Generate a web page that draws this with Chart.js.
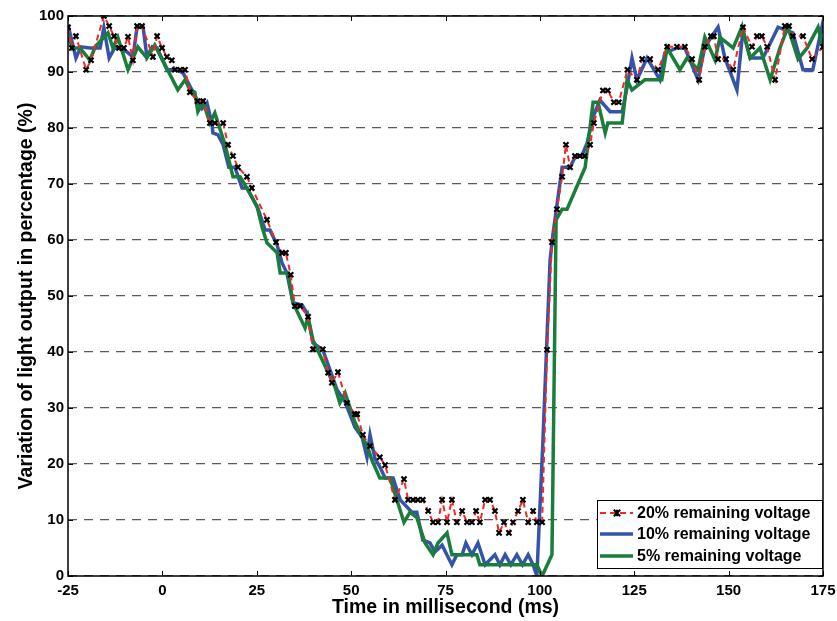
<!DOCTYPE html>
<html>
<head>
<meta charset="utf-8">
<script src="https://cdn.jsdelivr.net/npm/chart.js@4/dist/chart.umd.min.js"></script>
<style>
html,body{margin:0;padding:0;background:#fff;}
#wrap{width:837px;height:621px;}
</style>
</head>
<body>
<div id="wrap"><canvas id="c" width="837" height="621"></canvas></div>
<script>
// ---- Data ----
const seriesLabels = ["20% remaining voltage", "10% remaining voltage", "5% remaining voltage"];
const xTicks = [-25, 0, 25, 50, 75, 100, 125, 150, 175];
const yTicks = [0, 10, 20, 30, 40, 50, 60, 70, 80, 90, 100];

const redX = [-25,-24,-22.9,-20.2,-18.9,-15.5,-14.1,-12.8,-11.5,-10.2,-9.1,-7.8,-6.7,-5.4,-2.5,-1.4,-0.1,1.2,2.5,3.3,4.7,6.0,7.3,9.3,10.8,12.6,13.9,16.1,17.4,18.7,20.0,22.4,23.7,27.7,30.1,31.7,32.7,34.0,35.1,36.5,38.6,39.9,42.5,43.9,44.9,46.5,48.9,51.0,51.6,53.1,55.0,57.6,59.0,61.6,64.0,65.1,66.4,67.7,69.0,70.4,71.7,73.0,74.1,75.4,76.7,78.0,79.4,80.7,82.0,83.1,84.1,85.5,86.8,88.1,89.2,90.5,91.8,92.9,94.2,95.5,96.9,98.2,99.2,100.6,101.9,103.2,104.5,105.9,106.9,108.0,109.3,110.6,111.9,113.3,114.3,116.7,118.0,119.6,120.9,123.2,125.7,127.1,129.2,131.3,133.7,136.3,138.4,140.3,142.2,143.7,145.3,146.1,147.2,149.3,151.2,153.8,156.2,157.5,158.8,160.2,162.3,164.9,166.0,167.0,169.7,172.1,175];
const redY = [98,94.3,96.4,90.4,92.1,100,98.2,96.4,94.3,94.3,96.3,92.1,98.2,98.2,92.7,96.4,94.3,92.7,92.1,90.4,90.4,90.4,86.4,84.8,84.8,80.9,80.9,80.9,77,75,73,71.3,69.3,63.6,59.6,57.7,57.7,53.8,48.2,48.2,46.3,40.5,40.5,36.3,34.5,36.4,30.9,28.9,28.9,25.2,23.2,21.2,19.8,13.6,17.3,13.6,13.6,13.6,13.6,11.6,9.6,9.6,13.6,9.6,13.6,9.6,11.6,9.6,9.6,11.6,9.6,13.6,13.6,11.6,7.7,9.6,7.7,9.6,11.6,13.6,9.6,11.6,9.6,9.6,40.4,59.6,65.5,71.3,77,73,75,75,75,77,80.9,86.7,86.7,84.6,84.6,90.4,88.6,92.3,92.3,90.4,94.5,94.5,94.5,92.3,88.6,94.5,96.4,96.4,92.3,92.3,90.4,98,94.5,96.4,96.4,94.5,88.6,98.2,98.2,96.4,96.4,92.3,94.5];

const blueX = [-25,-22.9,-21.6,-19.2,-16.5,-15.5,-14.1,-12.5,-9.4,-7.8,-6.7,-5.1,-4.1,-2.7,-1.4,1.2,3.9,5.5,7.8,9.2,10.5,11.8,13.1,13.4,14.7,16.1,17.6,19.2,21.1,22.4,25.3,27.2,28.5,30.4,31.7,33.0,34.6,37.0,38.3,39.9,42.5,44.4,46.3,48.4,51.0,52.9,54.2,55.0,56.3,57.6,59.0,61.1,63.0,66.1,67.4,69.0,70.9,72.2,74.1,76.7,78.0,79.4,80.4,82.0,83.6,85.5,88.1,89.4,90.8,92.3,93.9,95.4,96.9,98.2,99.2,100.8,102.7,103.5,105.9,108.0,109.3,111.2,112.5,114.1,115.9,118.6,121.8,123.1,124.4,125.7,128.4,131.8,133.1,136.3,138.4,141.9,143.7,147.2,149.0,152.2,153.8,155.7,159.1,163.1,167.0,169.7,172.3,174.7,175];
const blueY = [98.4,92.5,94.5,94.3,94.3,97.9,92.5,94.5,93.6,92.7,98,98,92.7,94.5,94.3,90.4,90.4,89.8,86.8,85,83.5,84.5,80.9,79.1,78.8,77,73,73,69.3,69.3,65.7,61.8,61.8,59.1,55.9,54.1,48.8,48.4,47,41.6,40.4,36.8,33.2,31.1,26.6,24.8,21.2,25.2,21,19.5,17.5,17.5,13.6,11.4,11.4,6.4,5.9,4.3,5.5,2,3.8,3.8,5.9,3.8,5.9,2,3.8,2,3.8,2,3.8,2,3.8,2,0,24,56.4,61.2,73,73,74.8,75.2,77.3,82,85,82.9,82.9,87.3,92.5,88.6,92.5,88.6,93.4,94.3,94.3,88.6,94.5,98,92.5,86.8,97.5,92.5,92.5,98,97,90.4,90.4,98,97];

const greenX = [-25,-23.7,-21.8,-19.2,-17.8,-14.4,-13.1,-11.8,-9.1,-6.5,-4.1,-2.0,4.1,6.0,7.3,8.6,9.4,10.8,12.6,13.9,16.6,18.7,20.6,23.7,25.1,26.4,27.7,30.4,31.2,33.3,34.6,37.8,38.6,39.9,43.6,45.7,47.0,48.4,51.0,52.9,54.2,55.5,57.6,60.3,64.0,65.6,67.4,69.6,71.7,73.0,75.4,76.7,83.3,84.1,99.2,100.6,103.2,104.3,105.9,107.2,112.0,114.1,115.4,117.3,118.0,121.8,123.1,124.4,127.8,132.3,133.7,137.1,139.0,141.9,143.7,146.4,147.7,151.2,153.5,155.7,158.3,161.0,163.6,165.7,168.4,170.8,173.7,175];
const greenY = [96.2,94.3,94.3,92.1,94.5,97,94.3,96.2,90.4,94.5,92.5,94.8,86.8,88.6,86.8,86.4,82.9,84.6,80.9,82.7,77,71.3,71.3,67.7,65.9,62.3,59.5,57.7,54.1,54.1,48.8,44.3,46.3,42.1,36.8,33.8,30.9,32.7,27.5,24.8,23.4,20.7,17.5,17.5,9.6,11.4,10.4,5.9,3.8,5.9,7.7,3.8,3.8,2,2,0,3.8,63.6,65.5,65.5,73,84.6,84.6,79.1,80.9,80.9,88.6,86.8,88.6,88.6,94.3,90.4,92.5,90.4,96.2,92.1,96.2,94.3,98,92.5,94.3,88.6,94.3,98,92.3,94.3,98,94.3];

const xTitle = "Time in millisecond (ms)";
const yTitle = "Variation of light output in percentage (%)";

// ---- styles ----
const FONT = "'Liberation Sans', Arial, Helvetica, sans-serif";
const RED = '#f02828', BLUE = '#3553a8', GREEN = '#1a7d3c';

function pts(xs, ys){ return xs.map((x,i)=>({x:x, y:ys[i]})); }

const framePlugin = {
  id: 'frame',
  afterDatasetsDraw(chart){
    const {ctx, chartArea:a, scales} = chart;
    ctx.save();
    ctx.strokeStyle = '#000';
    ctx.lineWidth = 1;
    const tl = 5;
    ctx.beginPath();
    xTicks.forEach(v=>{
      const px = Math.round(scales.x.getPixelForValue(v))+0.5;
      ctx.moveTo(px, a.bottom); ctx.lineTo(px, a.bottom - tl);
      ctx.moveTo(px, a.top); ctx.lineTo(px, a.top + tl);
    });
    yTicks.forEach(v=>{
      const py = Math.round(scales.y.getPixelForValue(v))+0.5;
      ctx.moveTo(a.left, py); ctx.lineTo(a.left + tl, py);
      ctx.moveTo(a.right, py); ctx.lineTo(a.right - tl, py);
    });
    ctx.stroke();
    ctx.lineWidth = 1.5;
    ctx.strokeRect(a.left, a.top, a.right - a.left, a.bottom - a.top);

    // legend box
    const w = 225, h = 68;
    const bx = a.right - w - 1, by = a.bottom - h - 8;
    ctx.fillStyle = '#fff';
    ctx.fillRect(bx, by, w, h);
    ctx.lineWidth = 1;
    ctx.strokeStyle = '#000';
    ctx.strokeRect(bx + 0.5, by + 0.5, w, h);
    const rows = [13, 34, 56];
    const ds = chart.data.datasets;
    ctx.font = 'bold 16px ' + FONT;
    ctx.textBaseline = 'middle';
    ctx.textAlign = 'left';
    rows.forEach((ry, i)=>{
      const d = ds[i];
      const y = by + ry;
      ctx.save();
      ctx.strokeStyle = d.borderColor;
      ctx.lineWidth = d.borderWidth;
      ctx.setLineDash(d.borderDash || []);
      ctx.beginPath(); ctx.moveTo(bx + 3, y); ctx.lineTo(bx + 36, y); ctx.stroke();
      ctx.restore();
      if (d.pointRadius > 0) {
        ctx.save();
        ctx.strokeStyle = '#000'; ctx.lineWidth = 2;
        const cx = bx + 20, r = 3.2;
        ctx.beginPath();
        ctx.moveTo(cx - r, y - r); ctx.lineTo(cx + r, y + r);
        ctx.moveTo(cx + r, y - r); ctx.lineTo(cx - r, y + r);
        ctx.moveTo(cx, y - r); ctx.lineTo(cx, y + r);
        ctx.stroke();
        ctx.restore();
      }
      ctx.fillStyle = '#000';
      ctx.fillText(d.label, bx + 40, y + 1);
    });
    ctx.restore();
  }
};

new Chart(document.getElementById('c'), {
  type: 'scatter',
  data: {
    datasets: [
      { label: seriesLabels[0], data: pts(redX, redY), showLine: true,
        borderColor: RED, borderWidth: 2, borderDash: [6,4],
        pointStyle: 'crossRot', pointRadius: 3.6, pointBorderColor: '#000',
        pointBackgroundColor: '#000', pointBorderWidth: 2.2, pointHoverRadius: 3.6,
        order: 0 },
      { label: seriesLabels[1], data: pts(blueX, blueY), showLine: true,
        borderColor: BLUE, borderWidth: 3.5, pointRadius: 0, pointHoverRadius: 0,
        order: 2 },
      { label: seriesLabels[2], data: pts(greenX, greenY), showLine: true,
        borderColor: GREEN, borderWidth: 3.5, pointRadius: 0, pointHoverRadius: 0,
        order: 1 }
    ]
  },
  options: {
    responsive: false,
    animation: false,
    events: [],
    layout: { padding: { top: 16, right: 14, left: 0, bottom: 0 } },
    plugins: { legend: { display: false }, tooltip: { enabled: false } },
    scales: {
      x: {
        type: 'linear', min: -25, max: 175,
        afterBuildTicks(s){ s.ticks = xTicks.map(v=>({value:v})); },
        afterFit(s){ s.height = 45; s.paddingLeft = 0; s.paddingRight = 0; },
        ticks: { color: '#000', font: { family: FONT, size: 15, weight: 'bold' },
                 padding: 6, maxRotation: 0, autoSkip: false },
        grid: { display: false, drawTicks: false },
        border: { display: false },
        title: { display: true, text: xTitle, color: '#000',
                 font: { family: FONT, size: 19.5, weight: 'bold' },
                 padding: { top: 0, bottom: 2 } }
      },
      y: {
        type: 'linear', min: 0, max: 100,
        afterBuildTicks(s){ s.ticks = yTicks.map(v=>({value:v})); },
        afterFit(s){ s.width = 68; s.paddingTop = 0; s.paddingBottom = 0; },
        ticks: { color: '#000', font: { family: FONT, size: 15, weight: 'bold' },
                 padding: 4, autoSkip: false },
        grid: { display: true, drawTicks: false, color: '#5a5a5a', lineWidth: 1.3 },
        border: { display: false, dash: [9, 7] },
        title: { display: true, text: yTitle, color: '#000',
                 font: { family: FONT, size: 19.5, weight: 'bold' },
                 padding: { top: 15, bottom: 0 } }
      }
    }
  },
  plugins: [framePlugin]
});
</script>
</body>
</html>
